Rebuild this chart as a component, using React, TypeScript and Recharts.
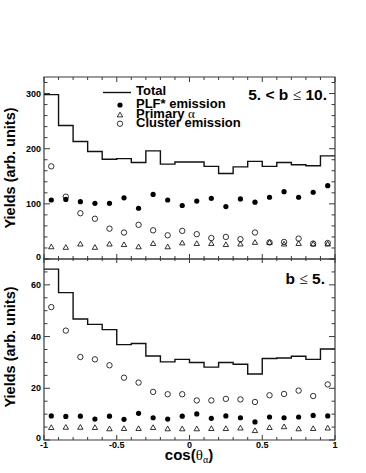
import React from 'react';
import { ComposedChart, Line, Scatter, XAxis, YAxis, ReferenceArea } from 'recharts';

// bin edges and centres in cos(theta_alpha)
const binEdges = [-1, -0.9, -0.8, -0.7, -0.6, -0.5, -0.4, -0.3, -0.2, -0.1, 0, 0.1, 0.2, 0.3, 0.4, 0.5, 0.6, 0.7, 0.8, 0.9, 1];
const binCenters = [-0.95, -0.85, -0.75, -0.65, -0.55, -0.45, -0.35, -0.25, -0.15, -0.05, 0.05, 0.15, 0.25, 0.35, 0.45, 0.55, 0.65, 0.75, 0.85, 0.95];

// top panel: 5. < b <= 10.
const totalTop = [298, 242, 213, 195, 181, 182, 175, 196, 172, 176, 176, 168, 155, 167, 177, 168, 175, 171, 169, 187];
const plfTop = [107, 108, 104, 101, 101, 111, 92, 117, 107, 97, 105, 110, 95, 109, 103, 112, 122, 112, 121, 133];
const primaryTop = [22, 21, 27, 21, 27, 26, 22, 28, 22, 29, 28, 28, 26, 27, 30, 30, 27, 28, 27, 27];
const clusterTop = [168, 113, 83, 73, 55, 48, 62, 52, 43, 51, 45, 38, 40, 36, 48, 30, 31, 37, 28, 29];

// bottom panel: b <= 5.
const totalBot = [66.1, 57, 46.8, 44.7, 42.7, 36.9, 37.3, 32.5, 30.2, 31.2, 30.0, 28.2, 30, 29.3, 25.5, 31.5, 31.7, 32.4, 31.2, 35.2];
const plfBot = [9.3, 9.1, 9.2, 8.1, 9.2, 8.0, 10.3, 8.6, 8.1, 9.2, 10.1, 8.4, 9.3, 8.6, 7.0, 8.9, 8.6, 8.9, 9.5, 9.3];
const primaryBot = [4.8, 4.9, 4.9, 4.8, 4.3, 4.4, 4.4, 4.8, 4.3, 4.3, 4.3, 4.4, 4.4, 4.6, 3.6, 4.8, 5.1, 4.3, 4.4, 4.6];
const clusterBot = [51.4, 42.3, 32.1, 31.2, 28.9, 24.1, 22.2, 18.6, 17.7, 17.7, 15.3, 15.3, 15.9, 15.7, 14.7, 17.3, 17.8, 19.1, 17, 21.5];

const xTicks = [-1, -0.9, -0.8, -0.7, -0.6, -0.5, -0.4, -0.3, -0.2, -0.1, 0, 0.1, 0.2, 0.3, 0.4, 0.5, 0.6, 0.7, 0.8, 0.9, 1];
const xLabels: Record<string, string> = { '-1': '-1', '-0.5': '-0.5', '0': '0', '0.5': '0.5', '1': '1' };
const yTicksTop = [0, 20, 40, 60, 80, 100, 120, 140, 160, 180, 200, 220, 240, 260, 280, 300, 320];
const yLabelsTop = [0, 100, 200, 300];
const yTicksBot = [0, 5, 10, 15, 20, 25, 30, 35, 40, 45, 50, 55, 60, 65, 70];
const yLabelsBot = [0, 20, 40, 60];

const FRAME = '#3a3a3a';
const FONT = '"Liberation Sans", Arial, Helvetica, sans-serif';
const SERIF = '"Liberation Serif", "DejaVu Serif", serif';
const PLOT_W = 291;
const PLOT_H = 182;

const hist = (vals: number[]) =>
  binEdges.map((x, i) => ({ x, y: vals[Math.min(i, vals.length - 1)] }));
const pts = (vals: number[]) => binCenters.map((x, i) => ({ x, y: vals[i] }));

const Dot = (p: any) => <circle cx={p.cx} cy={p.cy} r={2.6} fill="#000" />;
const Ring = (p: any) => <circle cx={p.cx} cy={p.cy} r={2.7} fill="none" stroke="#000" strokeWidth={0.8} />;
const Tri = (p: any) => (
  <polygon
    points={`${p.cx},${p.cy - 2.8} ${p.cx - 2.7},${p.cy + 1.9} ${p.cx + 2.7},${p.cy + 1.9}`}
    fill="none"
    stroke="#000"
    strokeWidth={0.8}
  />
);

const makeXTick = (labels: boolean) => (props: any) => {
  const { x, y, payload } = props;
  const v = payload.value;
  const major = Math.abs(v * 2 - Math.round(v * 2)) < 1e-6;
  const len = major ? 5 : 3;
  const key = String(Math.round(v * 10) / 10);
  return (
    <g>
      <line x1={x} x2={x} y1={y} y2={y - len} stroke={FRAME} strokeWidth={1} />
      <line x1={x} x2={x} y1={y - PLOT_H} y2={y - PLOT_H + len} stroke={FRAME} strokeWidth={1} />
      {labels && major && (
        <text x={x} y={y + 8} textAnchor="middle" fontSize={9} fontWeight="bold" fontFamily={FONT} fill="#000">
          {xLabels[key]}
        </text>
      )}
    </g>
  );
};

const makeYTick = (labelVals: number[]) => (props: any) => {
  const { x, y, payload } = props;
  const v = payload.value;
  const major = labelVals.includes(v);
  const len = major ? 6 : 3.5;
  return (
    <g>
      <line x1={x} x2={x + len} y1={y} y2={y} stroke={FRAME} strokeWidth={1} />
      <line x1={x + PLOT_W} x2={x + PLOT_W - len} y1={y} y2={y} stroke={FRAME} strokeWidth={1} />
      {major && (
        <text x={x - 3} y={v === 0 ? y + 1 : y + 3.2} textAnchor="end" fontSize={9} fontWeight="bold" fontFamily={FONT} fill="#000">
          {v}
        </text>
      )}
    </g>
  );
};

type PanelProps = {
  height: number;
  top: number;
  bottom: number;
  xAxisH: number;
  yMax: number;
  yTicks: number[];
  yLabels: number[];
  xLabels: boolean;
  total: number[];
  plf: number[];
  primary: number[];
  cluster: number[];
};

function Panel(p: PanelProps) {
  return (
    <div style={{ position: 'absolute', left: 0, top: 0 }}>
      <ComposedChart
        width={366}
        height={p.height}
        data={hist(p.total)}
        margin={{ top: p.top, right: 31, bottom: p.bottom, left: 14 }}
      >
        <XAxis
          type="number"
          dataKey="x"
          domain={[-1, 1]}
          ticks={xTicks}
          interval={0}
          allowDataOverflow
          axisLine={false}
          tickLine={false}
          tickSize={0}
          tickMargin={0}
          height={p.xAxisH}
          tick={makeXTick(p.xLabels)}
        />
        <YAxis
          type="number"
          domain={[0, p.yMax]}
          ticks={p.yTicks}
          interval={0}
          allowDataOverflow
          axisLine={false}
          tickLine={false}
          tickSize={0}
          tickMargin={0}
          width={30}
          tick={makeYTick(p.yLabels)}
        />
        <ReferenceArea x1={-1} x2={1} y1={0} y2={p.yMax} fill="none" stroke={FRAME} strokeWidth={1.2} ifOverflow="visible" />
        <Line type="stepAfter" dataKey="y" stroke="#111" strokeWidth={1.4} dot={false} isAnimationActive={false} />
        <Scatter data={pts(p.cluster)} dataKey="y" shape={Ring} isAnimationActive={false} />
        <Scatter data={pts(p.primary)} dataKey="y" shape={Tri} isAnimationActive={false} />
        <Scatter data={pts(p.plf)} dataKey="y" shape={Dot} isAnimationActive={false} />
      </ComposedChart>
    </div>
  );
}

export default function App() {
  const bold = { fontFamily: FONT, fontWeight: 'bold' as const, fill: '#000' };
  return (
    <div style={{ position: 'absolute', left: 0, top: 0, width: 366, height: 473, background: '#fff' }}>
      <Panel
        height={270}
        top={77}
        bottom={10}
        xAxisH={1}
        yMax={330}
        yTicks={yTicksTop}
        yLabels={yLabelsTop}
        xLabels={false}
        total={totalTop}
        plf={plfTop}
        primary={primaryTop}
        cluster={clusterTop}
      />
      <Panel
        height={473}
        top={259}
        bottom={13}
        xAxisH={20}
        yMax={70}
        yTicks={yTicksBot}
        yLabels={yLabelsBot}
        xLabels
        total={totalBot}
        plf={plfBot}
        primary={primaryBot}
        cluster={clusterBot}
      />
      <svg width={366} height={473} style={{ position: 'absolute', left: 0, top: 0, pointerEvents: 'none' }}>
        {/* legend */}
        <line x1={103} x2={131} y1={92.5} y2={92.5} stroke="#111" strokeWidth={1.4} />
        <text x={136} y={95} fontSize={13} {...bold}>Total</text>
        <circle cx={120} cy={105} r={2.6} fill="#000" />
        <text x={136} y={108.3} fontSize={13} {...bold}>PLF* emission</text>
        <polygon points="120,112.2 117.3,116.9 122.7,116.9" fill="none" stroke="#000" strokeWidth={0.8} />
        <text x={136} y={117.8} fontSize={13} {...bold}>
          Primary <tspan fontFamily={SERIF} fontWeight="normal">α</tspan>
        </text>
        <circle cx={120} cy={123.7} r={2.7} fill="none" stroke="#000" strokeWidth={0.8} />
        <text x={136} y={127.3} fontSize={13} {...bold}>Cluster emission</text>

        {/* panel labels */}
        <text x={327} y={100} textAnchor="end" fontSize={15.5} {...bold}>
          5. &lt; b <tspan fontFamily={SERIF} fontWeight="normal">≤</tspan> 10.
        </text>
        <text x={325} y={284} textAnchor="end" fontSize={15.5} {...bold}>
          b <tspan fontFamily={SERIF} fontWeight="normal">≤</tspan> 5.
        </text>

        {/* axis titles */}
        <text x={0} y={0} transform="translate(15,168) rotate(-90)" textAnchor="middle" fontSize={14.5} {...bold}>
          Yields (arb. units)
        </text>
        <text x={0} y={0} transform="translate(15,347) rotate(-90)" textAnchor="middle" fontSize={14.5} {...bold}>
          Yields (arb. units)
        </text>
        <text x={189} y={460} textAnchor="middle" fontSize={15} {...bold}>
          cos(<tspan fontFamily={SERIF} fontWeight="normal">θ</tspan>
          <tspan fontFamily={SERIF} fontWeight="normal" fontSize={10} dy={3}>α</tspan>
          <tspan dy={-3}>)</tspan>
        </text>
      </svg>
    </div>
  );
}
